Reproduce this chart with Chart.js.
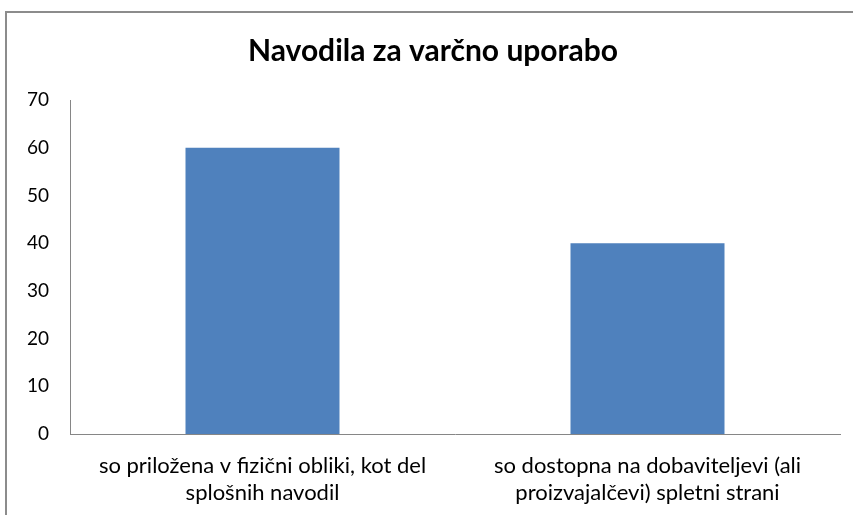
<!DOCTYPE html>
<html>
<head>
<meta charset="utf-8">
<script src="https://cdn.jsdelivr.net/npm/chart.js@4/dist/chart.umd.min.js"></script>
<style>
html,body{margin:0;padding:0;background:#fff;}
#wrap{position:absolute;left:0;top:0;width:853px;height:515px;}
</style>
</head>
<body>
<div id="wrap"><canvas id="c" width="853" height="515"></canvas></div>
<script>
const categories = [
  ["so priložena v fizični obliki, kot del", "splošnih navodil"],
  ["so dostopna na dobaviteljevi (ali", "proizvajalčevi) spletni strani"]
];
const values = [60, 40];
const chartTitle = "Navodila za varčno uporabo";
const yMin = 0, yMax = 70, yStep = 10;

const FONT = "Lato, 'Open Sans', sans-serif";

const borderPlugin = {
  id: 'frame',
  beforeDraw(chart) {
    const ctx = chart.ctx;
    ctx.save();
    ctx.fillStyle = '#fff';
    ctx.fillRect(0, 0, chart.width, chart.height);
    ctx.strokeStyle = '#8c8c8c';
    ctx.lineWidth = 2;
    ctx.strokeRect(6, 12, 1000, 700);
    ctx.restore();
  }
};

new Chart(document.getElementById('c'), {
  type: 'bar',
  data: {
    labels: categories,
    datasets: [{
      data: values,
      backgroundColor: '#4F81BD',
      borderWidth: 0,
      categoryPercentage: 0.8,
      barPercentage: 0.5
    }]
  },
  options: {
    responsive: false,
    animation: false,
    layout: { padding: { left: 26, right: 13, top: 0, bottom: 0 } },
    plugins: {
      legend: { display: false },
      tooltip: { enabled: false },
      title: {
        display: true,
        text: chartTitle,
        color: '#000',
        font: { family: FONT, size: 30, weight: 'bold' },
        padding: { top: 33, bottom: 31 }
      }
    },
    scales: {
      x: {
        grid: { display: false, drawTicks: false },
        border: { display: true, color: '#868686', width: 1 },
        ticks: {
          color: '#000',
          font: { family: FONT, size: 22, lineHeight: 1.2 },
          padding: 19,
          maxRotation: 0,
          autoSkip: false
        },
        afterFit(scale) { scale.height = 81; }
      },
      y: {
        min: yMin, max: yMax,
        grid: { display: false, drawTicks: false },
        border: { display: true, color: '#868686', width: 1 },
        ticks: {
          stepSize: yStep,
          color: '#000',
          font: { family: FONT, size: 19 },
          padding: 21
        },
        afterFit(scale) { scale.width = 44; }
      }
    }
  },
  plugins: [borderPlugin]
});
</script>
</body>
</html>
